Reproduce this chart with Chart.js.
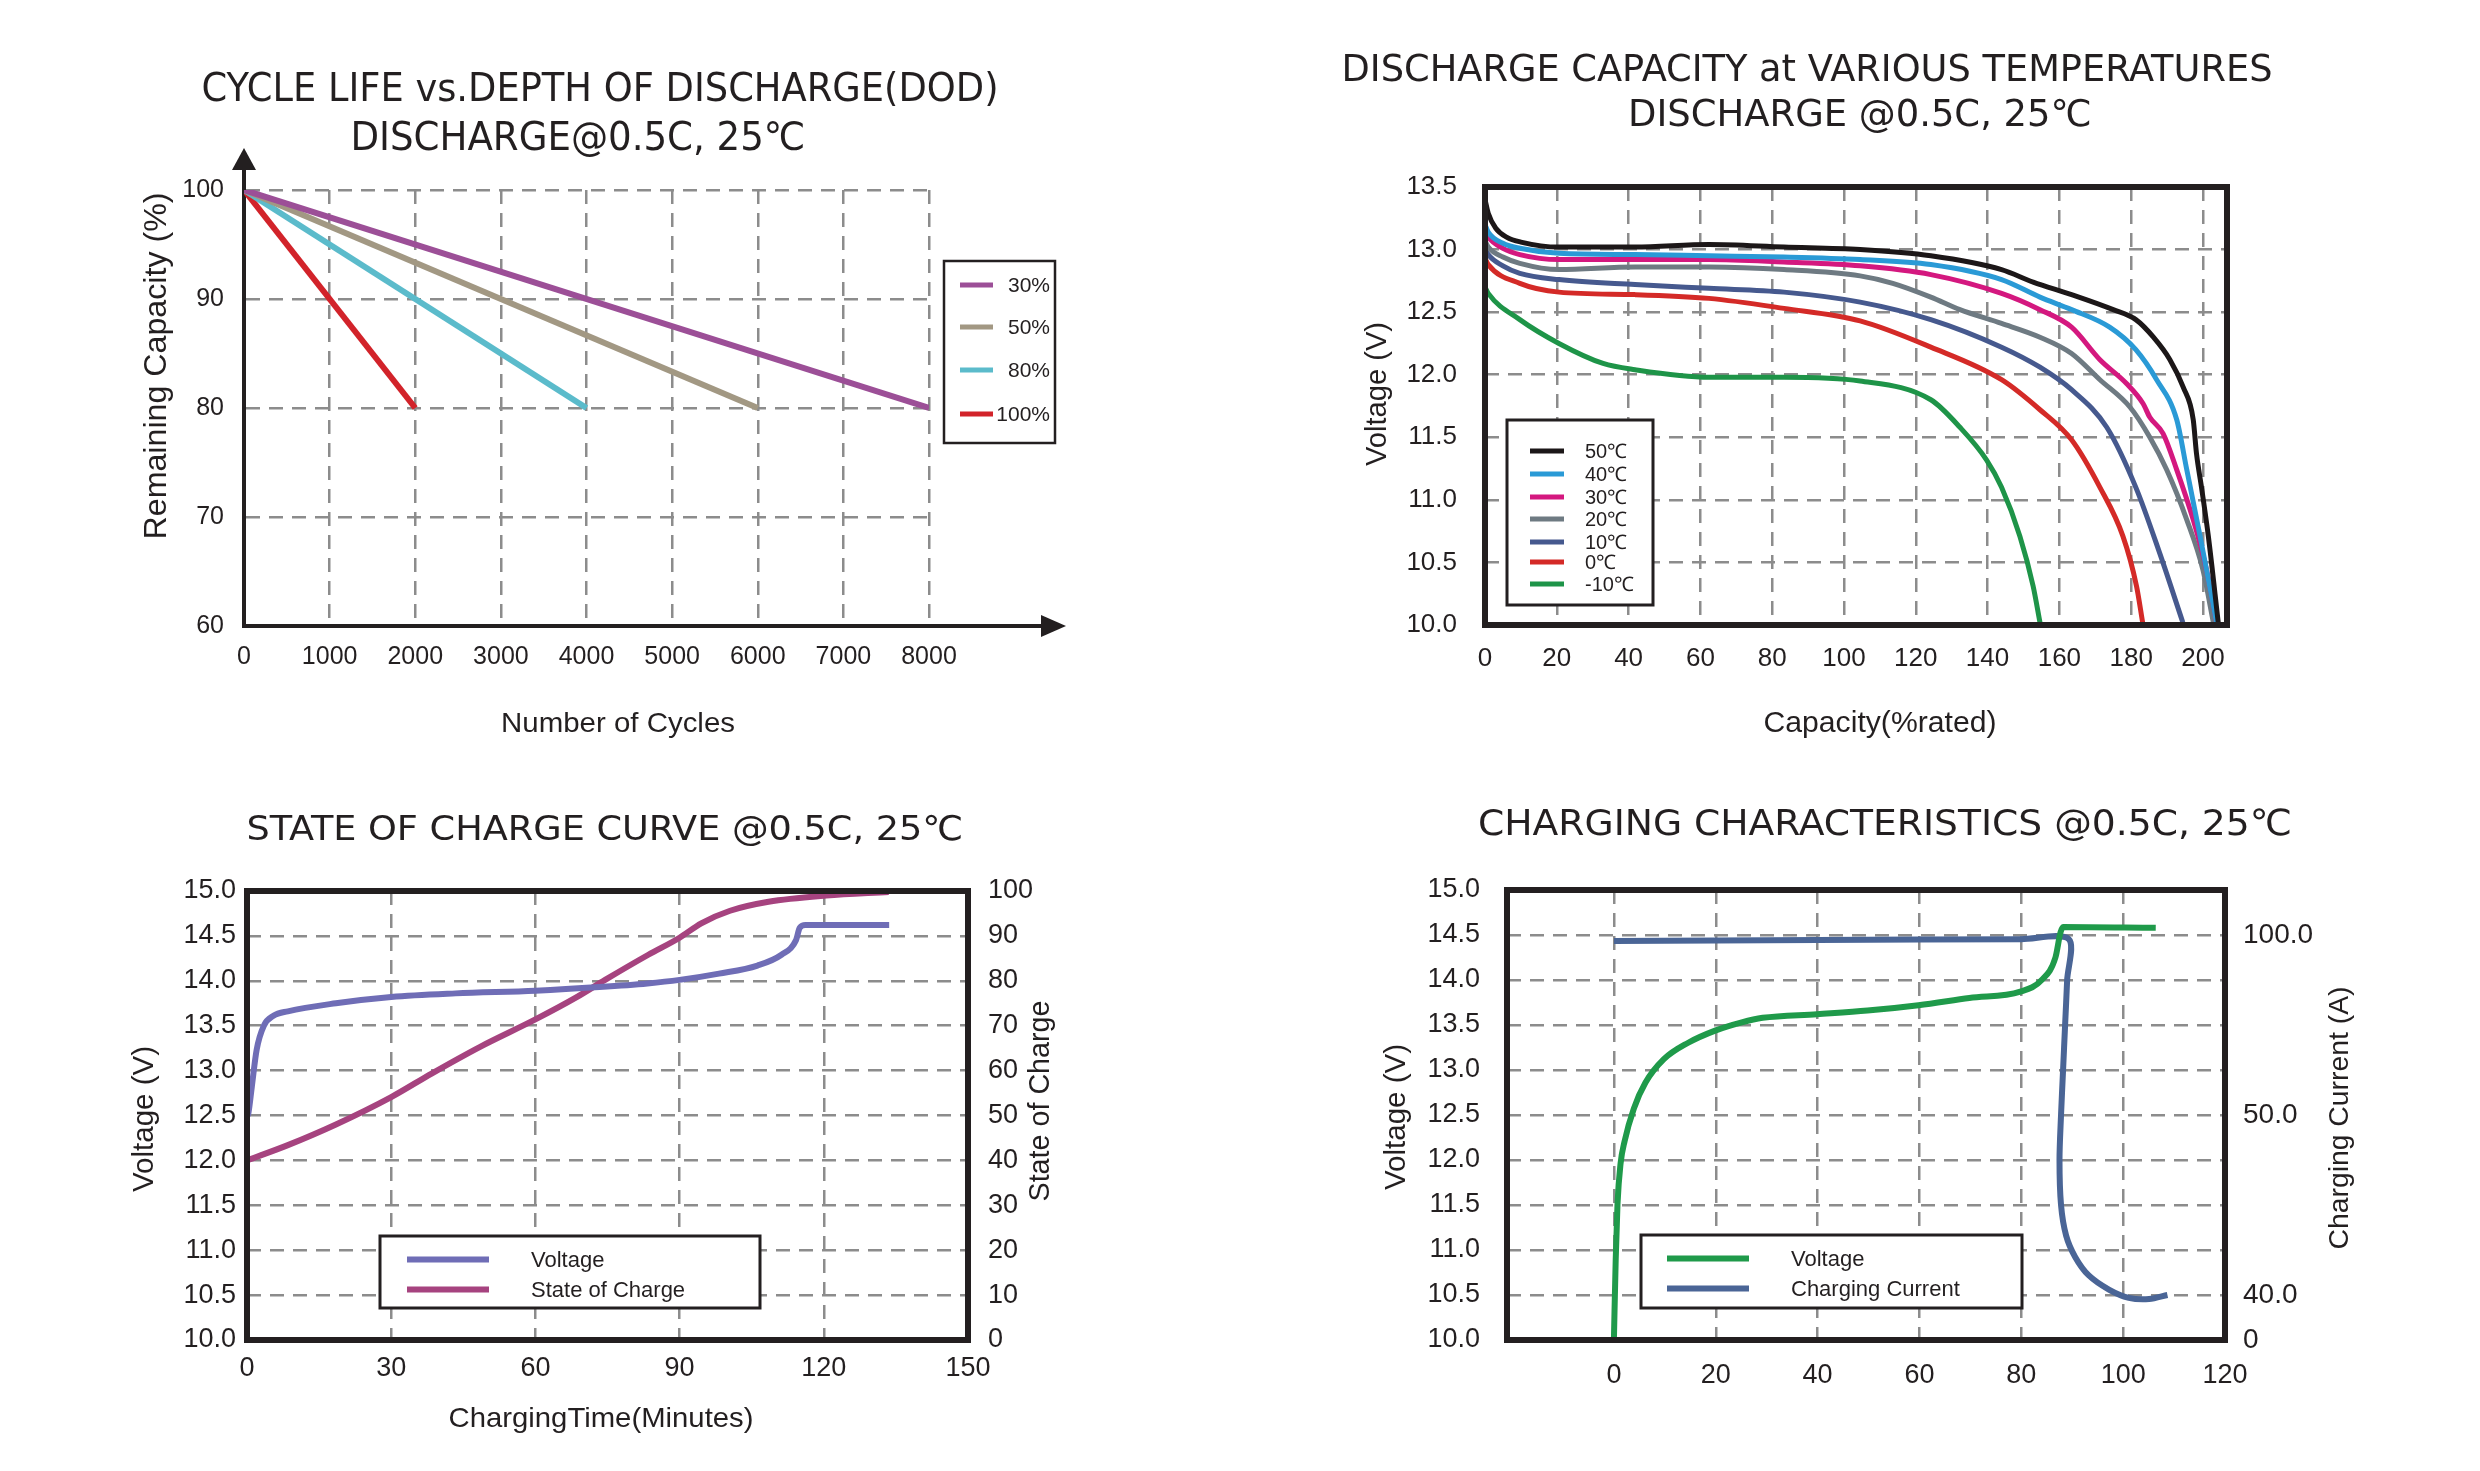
<!DOCTYPE html>
<html>
<head>
<meta charset="utf-8">
<title>LiFePO4 battery curves</title>
<script src="https://cdn.jsdelivr.net/npm/chart.js@4.4.1/dist/chart.umd.min.js"></script>
<style>
  html, body { margin: 0; padding: 0; background: #fff; }
  #page { position: relative; width: 2480px; height: 1471px; overflow: hidden; background: #fff; }
  canvas { position: absolute; }
</style>
</head>
<body>
<div id="page">
  <canvas id="cycleLife" width="1240" height="760" style="left:0;top:0"></canvas>
  <canvas id="tempCap" width="1240" height="760" style="left:1240px;top:0"></canvas>
  <canvas id="socCurve" width="1240" height="711" style="left:0;top:760px"></canvas>
  <canvas id="charging" width="1240" height="711" style="left:1240px;top:760px"></canvas>
</div>
<script>
// ---------- data ----------

// cycle life vs depth of discharge: [cycles, remaining capacity %]
const CYCLE_TICKS = [0, 1000, 2000, 3000, 4000, 5000, 6000, 7000, 8000];
const REMAIN_TICKS = [60, 70, 80, 90, 100];
const DOD_30 = [[0, 100], [8000, 80]];
const DOD_50 = [[0, 100], [6000, 80]];
const DOD_80 = [[0, 100], [4000, 80]];
const DOD_100 = [[0, 100], [2000, 80]];

// discharge capacity at temperatures: [capacity %rated, volts]
const CAP_TICKS = [0, 20, 40, 60, 80, 100, 120, 140, 160, 180, 200];
const DIS_VOLT_TICKS = [10, 10.5, 11, 11.5, 12, 12.5, 13, 13.5];
const T_50 = [[0, 13.4], [0.9, 13.29], [3, 13.17], [6, 13.1], [10, 13.06], [20.6, 13.02], [41.8, 13.02], [62.4, 13.04], [83.3, 13.02], [104.5, 13.0], [124.2, 12.95], [143.9, 12.84], [152.7, 12.74], [163.4, 12.64], [175, 12.52], [181.3, 12.44], [186.2, 12.3], [190.8, 12.12], [194.5, 11.9], [197.3, 11.64], [198.2, 11.37], [199.6, 11.1], [201.5, 10.71], [204.3, 10.01]];
const T_40 = [[0, 13.2], [0.9, 13.14], [5, 13.05], [9.7, 13.01], [20.6, 12.97], [41.8, 12.96], [62.4, 12.95], [83.3, 12.94], [104.5, 12.92], [124.2, 12.88], [143.9, 12.76], [154.6, 12.62], [163.4, 12.52], [174, 12.38], [181.3, 12.2], [187.1, 11.96], [192.7, 11.64], [195.5, 11.24], [199.2, 10.71], [203.8, 10.02]];
const T_30 = [[0, 13.15], [0.9, 13.1], [5, 13.01], [9.7, 12.96], [20.6, 12.92], [41.8, 12.92], [62.4, 12.92], [83.3, 12.9], [104.5, 12.87], [124.2, 12.8], [143.9, 12.65], [154.6, 12.52], [163.4, 12.38], [171.3, 12.12], [178.7, 11.93], [183.3, 11.77], [185.2, 11.66], [188.9, 11.53], [192.7, 11.24], [197.3, 10.84], [201, 10.44], [203.8, 10.02]];
const T_20 = [[0, 13.07], [0.9, 13.02], [5, 12.94], [9.7, 12.89], [20.6, 12.84], [41.8, 12.86], [62.4, 12.86], [83.3, 12.84], [104.5, 12.79], [113.6, 12.73], [124.2, 12.62], [132.3, 12.52], [143.9, 12.41], [154.6, 12.3], [163.4, 12.17], [171.3, 11.96], [179.7, 11.74], [185.2, 11.5], [189.9, 11.24], [195.5, 10.84], [200, 10.44], [202.9, 10.02]];
const T_10 = [[0, 13.01], [0.9, 12.96], [5, 12.87], [9.7, 12.81], [20.6, 12.76], [41.8, 12.72], [62.4, 12.69], [83.3, 12.66], [104.5, 12.58], [124.2, 12.44], [143.9, 12.22], [154.6, 12.06], [163.4, 11.88], [173.2, 11.58], [181.3, 11.1], [188, 10.57], [194.4, 10.02]];
const T_0 = [[0, 12.93], [0.9, 12.88], [9.7, 12.73], [20.6, 12.66], [41.8, 12.64], [62.4, 12.61], [83.3, 12.53], [104.5, 12.43], [124.2, 12.22], [143.9, 11.96], [154.6, 11.72], [163.4, 11.48], [171.3, 11.1], [177.7, 10.71], [181.5, 10.31], [183.2, 10.02]];
const T_M10 = [[0, 12.7], [0.9, 12.65], [9.7, 12.44], [20.6, 12.25], [32.9, 12.09], [41.8, 12.04], [62.4, 11.98], [83.3, 11.98], [104.5, 11.95], [124.2, 11.8], [132.3, 11.58], [139.7, 11.32], [143.9, 11.1], [149, 10.71], [152.7, 10.31], [154.6, 10.02]];

// state of charge curve: [minutes, volts] and [minutes, SOC %]
const MIN_TICKS = [0, 30, 60, 90, 120, 150];
const VOLT_TICKS = [10, 10.5, 11, 11.5, 12, 12.5, 13, 13.5, 14, 14.5, 15];
const SOC_TICKS = [0, 10, 20, 30, 40, 50, 60, 70, 80, 90, 100];
const SOC_VOLTAGE = [[0, 12.49], [0.3, 12.53], [1, 12.82], [2, 13.23], [3.5, 13.5], [5.5, 13.61], [8.5, 13.66], [18.5, 13.75], [30, 13.82], [43.4, 13.86], [60, 13.89], [73.3, 13.93], [83.3, 13.97], [90, 14.01], [98.2, 14.08], [106.2, 14.17], [111.2, 14.29], [114.2, 14.45], [115, 14.59], [116.2, 14.62], [133.6, 14.62]];
const SOC_PERCENT = [[0, 40], [8.5, 43.4], [18.5, 48], [30, 54.1], [38.5, 59.4], [48.5, 65.3], [60, 71.4], [68.5, 76.3], [74.5, 80.2], [83.5, 85.8], [90, 89.6], [94.5, 92.8], [100.5, 95.6], [108.5, 97.6], [120.5, 99], [133.5, 99.8]];

// charging characteristics: [minutes, volts] and [minutes, amps]
const CHG_TICKS = [0, 20, 40, 60, 80, 100, 120];
const CURRENT_TICKS = [0, 40, 50, 100];
const CURRENT_TICK_VOLTS = [10, 10.5, 12.5, 14.5]; // voltage gridline each current label sits on
const CHG_VOLTAGE = [[0, 10.02], [0.35, 10.9], [0.7, 11.51], [1.3, 11.96], [2.1, 12.21], [3.9, 12.57], [6.2, 12.86], [9.8, 13.12], [14.5, 13.3], [20, 13.44], [25.1, 13.53], [29.2, 13.58], [39.9, 13.62], [49.8, 13.66], [59.8, 13.72], [69.8, 13.8], [79.8, 13.87], [84, 14.0], [86.7, 14.25], [87.7, 14.53], [88.2, 14.59], [106.4, 14.58]];
const CHG_CURRENT = [[0, 98.3], [40, 98.6], [80, 98.85], [89.3, 98.9], [89, 87.5], [88.6, 75], [88.2, 62.5], [87.8, 50], [87.5, 47.5], [87.8, 45], [88.8, 43.3], [90.6, 42.1], [93.2, 41.1], [97.2, 40.3], [101.1, 37.5], [105.1, 36.4], [108.7, 40]];

// ---------- styling helpers ----------
const INK = '#231f20';
const FONT = '"Liberation Sans", Arial, sans-serif';
const TITLE_FONT = '"Liberation Sans Narrow", "DejaVu Sans Condensed", "Liberation Sans", sans-serif';
const DASH = [14, 9];

Chart.defaults.font.family = FONT;
Chart.defaults.color = INK;

const pts = a => a.map(([x, y]) => ({ x, y }));
const oneDecimal = v => v.toFixed(1);

// tick labels are clipped to the scale box, so vertical scales get room
function axis(tickValues, o) {
  return {
    type: o.type || 'linear',
    position: o.position,
    min: o.min,
    max: o.max,
    afterBuildTicks: s => { s.ticks = tickValues.map(value => ({ value })); },
    afterFit: s => { if (s.isHorizontal()) s.height = 60; else s.width = 110; },
    grid: o.noGrid ? { display: false, drawTicks: false } : { color: '#8c8c8c', lineWidth: 2.5, drawTicks: false },
    border: { display: !!o.border, color: INK, width: 4, dash: DASH },
    ticks: {
      color: INK, font: { family: FONT, size: o.size }, padding: o.pad,
      autoSkip: false, maxRotation: 0, callback: o.fmt || (v => String(v))
    }
  };
}

function line(label, data, color, width, extra) {
  return Object.assign({
    label, data: pts(data), borderColor: color, backgroundColor: color,
    borderWidth: width, pointRadius: 0, fill: false, tension: 0,
    borderJoinStyle: 'round'
  }, extra || {});
}

// free text: titles and axis titles, squeezed to the measured width
function captions(items) {
  return {
    id: 'captions',
    afterDraw(chart) {
      const ctx = chart.ctx;
      items.forEach(c => {
        ctx.save();
        ctx.font = `${c.size}px ${c.family || FONT}`;
        ctx.fillStyle = INK;
        ctx.textAlign = 'center';
        ctx.textBaseline = 'middle';
        ctx.translate(c.x, c.y);
        if (c.rotate) ctx.rotate(c.rotate * Math.PI / 180);
        const w = ctx.measureText(c.text).width;
        if (c.width) ctx.scale(c.width / w, 1);
        ctx.fillText(c.text, 0, 0);
        ctx.restore();
      });
    }
  };
}

// boxed legend built from the datasets
function boxLegend(o) {
  return {
    id: 'boxLegend',
    afterDatasetsDraw(chart) {
      const ctx = chart.ctx;
      const [x1, y1, x2, y2] = o.box;
      ctx.save();
      ctx.fillStyle = '#fff';
      ctx.fillRect(x1, y1, x2 - x1, y2 - y1);
      ctx.lineWidth = o.border;
      ctx.strokeStyle = INK;
      ctx.strokeRect(x1, y1, x2 - x1, y2 - y1);
      ctx.font = `${o.size}px ${FONT}`;
      ctx.textBaseline = 'middle';
      ctx.textAlign = o.align || 'left';
      chart.data.datasets.forEach((ds, i) => {
        const y = o.rows[i];
        ctx.strokeStyle = ds.borderColor;
        ctx.lineWidth = o.lineWidth;
        ctx.beginPath();
        ctx.moveTo(o.sample[0], y);
        ctx.lineTo(o.sample[1], y);
        ctx.stroke();
        ctx.fillStyle = INK;
        ctx.fillText(ds.label, o.labelX, y + 1);
      });
      ctx.restore();
    }
  };
}

const frame = {
  id: 'frame',
  afterDraw(chart) {
    const { ctx, chartArea: a } = chart;
    ctx.save();
    ctx.lineWidth = 6;
    ctx.strokeStyle = INK;
    ctx.strokeRect(a.left, a.top, a.right - a.left, a.bottom - a.top);
    ctx.restore();
  }
};

const axisArrows = {
  id: 'axisArrows',
  afterDraw(chart) {
    const { ctx, chartArea: a } = chart;
    const tipY = a.top - 42, tipX = a.right + 137;
    ctx.save();
    ctx.strokeStyle = INK;
    ctx.fillStyle = INK;
    ctx.lineWidth = 4;
    ctx.beginPath();
    ctx.moveTo(a.left, a.top);
    ctx.lineTo(a.left, tipY + 20);
    ctx.moveTo(a.right, a.bottom);
    ctx.lineTo(tipX - 20, a.bottom);
    ctx.stroke();
    ctx.beginPath();
    ctx.moveTo(a.left, tipY);
    ctx.lineTo(a.left - 12, tipY + 22);
    ctx.lineTo(a.left + 12, tipY + 22);
    ctx.closePath();
    ctx.fill();
    ctx.beginPath();
    ctx.moveTo(tipX, a.bottom);
    ctx.lineTo(tipX - 25, a.bottom - 11);
    ctx.lineTo(tipX - 25, a.bottom + 11);
    ctx.closePath();
    ctx.fill();
    ctx.restore();
  }
};

// current axis of the charging chart: labels sit on fixed voltage gridlines
class BrokenScale extends Chart.LinearScale {
  getPixelForValue(value) {
    const v = CURRENT_TICKS, lv = CURRENT_TICK_VOLTS;
    let i = 1;
    while (i < v.length - 1 && value > v[i]) i++;
    const level = lv[i - 1] + (value - v[i - 1]) / (v[i] - v[i - 1]) * (lv[i] - lv[i - 1]);
    const lo = VOLT_TICKS[0], hi = VOLT_TICKS[VOLT_TICKS.length - 1];
    return this.getPixelForDecimal((level - lo) / (hi - lo));
  }
}
BrokenScale.id = 'broken';
BrokenScale.defaults = Chart.LinearScale.defaults;
Chart.register(BrokenScale);

const base = {
  responsive: false,
  animation: false,
  devicePixelRatio: 1,
  events: [],
  plugins: { legend: { display: false }, tooltip: { enabled: false } }
};

// ---------- 1. cycle life ----------
new Chart('cycleLife', {
  type: 'line',
  data: {
    datasets: [
      line('30%', DOD_30, '#9c4f97', 6),
      line('50%', DOD_50, '#a29883', 6),
      line('80%', DOD_80, '#5bbbcb', 6),
      line('100%', DOD_100, '#d2232a', 6)
    ]
  },
  options: Object.assign({}, base, {
    layout: { padding: { left: 134, top: 190, right: 311, bottom: 74 } },
    scales: {
      x: axis(CYCLE_TICKS, { min: 0, max: 8000, size: 25, pad: 16, border: true }),
      y: axis(REMAIN_TICKS, { min: 60, max: 100, size: 25, pad: 20, border: true })
    }
  }),
  plugins: [
    boxLegend({ box: [944, 261, 1055, 443], rows: [285, 327, 370, 414], sample: [960, 993], labelX: 1050, align: 'right', size: 21, lineWidth: 5, border: 2.5 }),
    axisArrows,
    captions([
      { text: 'CYCLE LIFE vs.DEPTH OF DISCHARGE(DOD)', x: 600, y: 91, size: 39, width: 797, family: TITLE_FONT },
      { text: 'DISCHARGE@0.5C, 25℃', x: 578, y: 140, size: 39, width: 455, family: TITLE_FONT },
      { text: 'Remaining Capacity (%)', x: 157, y: 366, size: 32, width: 347, rotate: -90 },
      { text: 'Number of Cycles', x: 618, y: 724, size: 28, width: 234 }
    ])
  ]
});

// ---------- 2. discharge at temperatures ----------
const smooth = { cubicInterpolationMode: 'monotone' };
new Chart('tempCap', {
  type: 'line',
  data: {
    datasets: [
      line('50℃', T_50, '#1c1718', 5, smooth),
      line('40℃', T_40, '#2a9ad6', 5, smooth),
      line('30℃', T_30, '#d4187f', 5, smooth),
      line('20℃', T_20, '#6e7a82', 5, smooth),
      line('10℃', T_10, '#46598e', 5, smooth),
      line('0℃', T_0, '#d42a27', 5, smooth),
      line('-10℃', T_M10, '#1e9448', 5, smooth)
    ]
  },
  options: Object.assign({}, base, {
    layout: { padding: { left: 135, top: 187, right: 253, bottom: 75 } },
    scales: {
      x: axis(CAP_TICKS, { min: 0, max: 206.7, size: 26, pad: 18 }),
      y: axis(DIS_VOLT_TICKS, { min: 10, max: 13.5, size: 26, pad: 28, fmt: oneDecimal })
    }
  }),
  plugins: [
    boxLegend({ box: [267, 420, 413, 605], rows: [451, 474, 497, 519, 542, 562, 584], sample: [290, 324], labelX: 345, size: 20, lineWidth: 5, border: 3 }),
    frame,
    captions([
      { text: 'DISCHARGE CAPACITY at VARIOUS TEMPERATURES', x: 567, y: 71, size: 37, width: 931, family: TITLE_FONT },
      { text: 'DISCHARGE @0.5C, 25℃', x: 620, y: 116, size: 37, width: 464, family: TITLE_FONT },
      { text: 'Voltage (V)', x: 138, y: 394, size: 29, width: 144, rotate: -90 },
      { text: 'Capacity(%rated)', x: 640, y: 724, size: 30, width: 233 }
    ])
  ]
});

// ---------- 3. state of charge ----------
new Chart('socCurve', {
  type: 'line',
  data: {
    datasets: [
      line('Voltage', SOC_VOLTAGE, '#6f6db6', 6, Object.assign({ yAxisID: 'y' }, smooth)),
      line('State of Charge', SOC_PERCENT, '#a6437f', 6, Object.assign({ yAxisID: 'y2' }, smooth))
    ]
  },
  options: Object.assign({}, base, {
    layout: { padding: { left: 137, top: 131, right: 162, bottom: 71 } },
    scales: {
      x: axis(MIN_TICKS, { min: 0, max: 150, size: 27, pad: 12 }),
      y: axis(VOLT_TICKS, { min: 10, max: 15, size: 27, pad: 11, fmt: oneDecimal }),
      y2: axis(SOC_TICKS, { min: 0, max: 100, size: 27, pad: 20, position: 'right', noGrid: true })
    }
  }),
  plugins: [
    boxLegend({ box: [380, 476, 760, 548], rows: [499.5, 529.5], sample: [407, 489], labelX: 531, size: 22, lineWidth: 6, border: 3 }),
    frame,
    captions([
      { text: 'STATE OF CHARGE CURVE @0.5C, 25℃', x: 605, y: 71, size: 34, width: 717, family: TITLE_FONT },
      { text: 'Voltage (V)', x: 145, y: 359, size: 29, width: 146, rotate: -90 },
      { text: 'State of Charge', x: 1041, y: 341, size: 29, width: 201, rotate: -90 },
      { text: 'ChargingTime(Minutes)', x: 601, y: 659, size: 28, width: 305 }
    ])
  ]
});

// ---------- 4. charging characteristics ----------
new Chart('charging', {
  type: 'line',
  data: {
    datasets: [
      line('Voltage', CHG_VOLTAGE, '#1f9a4a', 6, Object.assign({ yAxisID: 'y' }, smooth)),
      line('Charging Current', CHG_CURRENT, '#4a6596', 6, { yAxisID: 'y2', tension: 0.3 })
    ]
  },
  options: Object.assign({}, base, {
    layout: { padding: { left: 157, top: 130, right: 145, bottom: 71 } },
    scales: {
      x: axis(CHG_TICKS, { min: -21, max: 120, size: 27, pad: 19 }),
      y: axis(VOLT_TICKS, { min: 10, max: 15, size: 27, pad: 27, fmt: oneDecimal }),
      y2: axis(CURRENT_TICKS, { type: 'broken', min: 0, max: 112.5, size: 28, pad: 18, position: 'right', noGrid: true,
        fmt: v => (v === 0 ? '0' : v.toFixed(1)) })
    }
  }),
  plugins: [
    boxLegend({ box: [401, 475, 782, 548], rows: [498.5, 528.5], sample: [427, 509], labelX: 551, size: 22, lineWidth: 6, border: 3 }),
    frame,
    captions([
      { text: 'CHARGING CHARACTERISTICS @0.5C, 25℃', x: 645, y: 66, size: 36, width: 814, family: TITLE_FONT },
      { text: 'Voltage (V)', x: 157, y: 357, size: 29, width: 146, rotate: -90 },
      { text: 'Charging Current (A)', x: 1100, y: 358, size: 28, width: 263, rotate: -90 }
    ])
  ]
});
</script>
</body>
</html>
